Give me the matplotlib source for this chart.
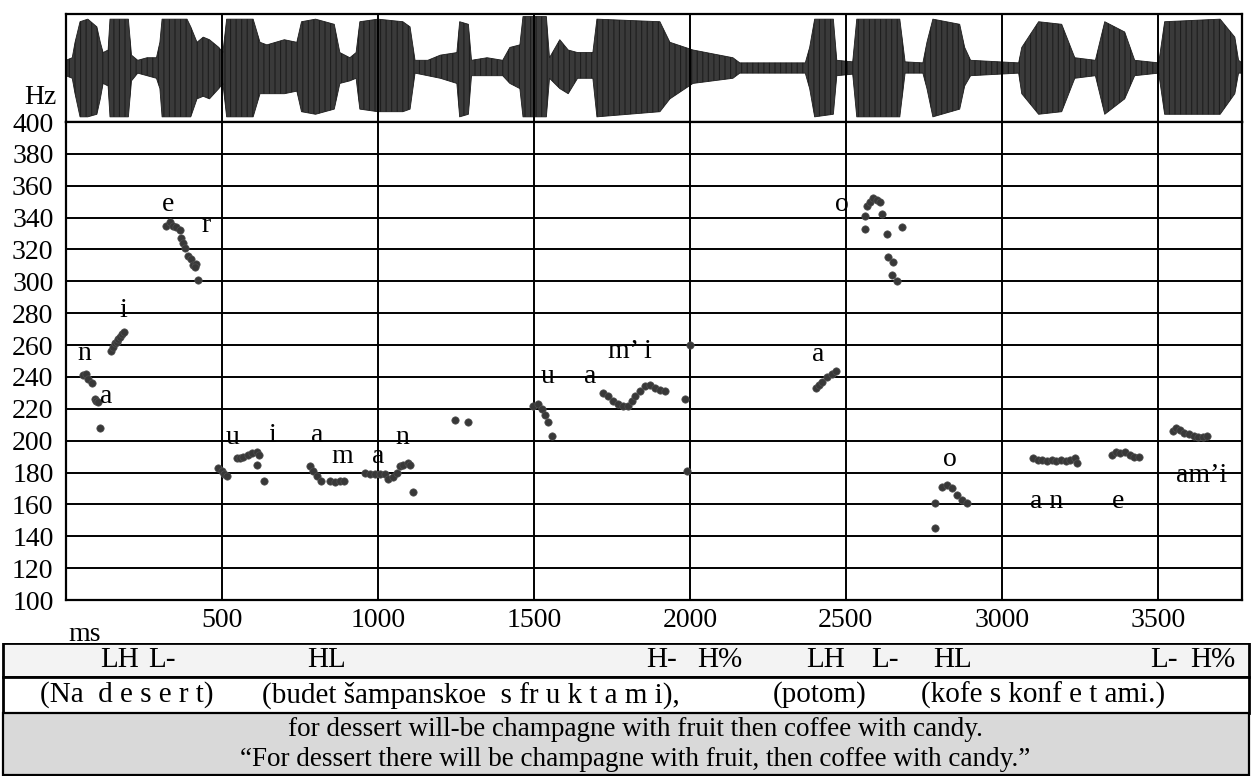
import matplotlib.pyplot as plt
from matplotlib.patches import Rectangle

plt.rcParams['font.family'] = ['Liberation Serif', 'DejaVu Serif']
plt.rcParams['hatch.linewidth'] = 0.8

# --- waveform envelope (ms, upper amplitude, lower amplitude) ---
wave_t = [0, 20, 29, 45, 70, 99, 110, 119, 135, 141, 200, 210, 230, 260, 290, 301, 308, 388,
          400, 420, 440, 460, 490, 503, 515, 600, 622, 644, 700, 740, 755, 800, 860, 878, 910,
          930, 942, 1000, 1080, 1103, 1119, 1160, 1200, 1253, 1262, 1290, 1300, 1350, 1400,
          1423, 1455, 1465, 1540, 1550, 1583, 1610, 1640, 1689, 1702, 1904, 1936, 2010, 2138,
          2160, 2370, 2384, 2400, 2460, 2471, 2522, 2535, 2673, 2690, 2747, 2760, 2779, 2865,
          2881, 2900, 3054, 3064, 3118, 3192, 3234, 3300, 3330, 3394, 3426, 3503, 3522, 3700,
          3747, 3759, 3770]
wave_top = [0.15, 0.2, 0.5, 0.9, 0.95, 0.8, 0.5, 0.3, 0.35, 0.95, 0.95, 0.25, 0.15, 0.2, 0.2,
            0.5, 0.95, 0.95, 0.8, 0.5, 0.6, 0.55, 0.4, 0.3, 0.95, 0.95, 0.5, 0.45, 0.55, 0.5,
            0.9, 0.95, 0.85, 0.3, 0.2, 0.3, 0.9, 0.95, 0.9, 0.8, 0.15, 0.15, 0.25, 0.3, 0.9,
            0.85, 0.15, 0.2, 0.15, 0.4, 0.45, 1.0, 1.0, 0.2, 0.55, 0.35, 0.3, 0.3, 0.95, 0.9,
            0.5, 0.35, 0.2, 0.1, 0.1, 0.4, 0.95, 0.95, 0.15, 0.12, 0.95, 0.95, 0.12, 0.1, 0.5,
            0.95, 0.85, 0.4, 0.15, 0.1, 0.4, 0.9, 0.85, 0.2, 0.15, 0.9, 0.7, 0.15, 0.1, 0.9,
            0.95, 0.6, 0.15, 0.1]
wave_bot = [0.15, 0.2, 0.5, 0.95, 0.95, 0.9, 0.6, 0.3, 0.35, 0.95, 0.95, 0.25, 0.1, 0.15, 0.2,
            0.4, 0.95, 0.95, 0.95, 0.6, 0.55, 0.6, 0.4, 0.3, 0.95, 0.95, 0.5, 0.5, 0.5, 0.45,
            0.85, 0.9, 0.8, 0.3, 0.25, 0.2, 0.8, 0.85, 0.85, 0.8, 0.1, 0.15, 0.2, 0.3, 0.95,
            0.9, 0.15, 0.15, 0.15, 0.3, 0.4, 0.95, 0.95, 0.2, 0.4, 0.5, 0.2, 0.2, 0.95, 0.85,
            0.6, 0.3, 0.2, 0.1, 0.1, 0.4, 0.95, 0.9, 0.15, 0.12, 0.95, 0.95, 0.1, 0.1, 0.4,
            0.95, 0.8, 0.35, 0.15, 0.1, 0.5, 0.9, 0.85, 0.2, 0.15, 0.9, 0.6, 0.15, 0.1, 0.9,
            0.9, 0.5, 0.1, 0.1]

# --- F0 points (ms, Hz) ---
pitch_ms = [54, 64, 71, 83, 92, 96, 103, 109,
            144, 151, 157, 163, 168, 173, 180, 186,
            320, 333, 343, 354, 364, 369, 375, 380, 390, 401, 407, 417, 412, 422,
            487, 500, 506, 516, 548, 558, 567, 583, 596, 612, 619, 612, 635,
            782, 792, 804, 817, 846, 862, 878, 891,
            958, 974, 990, 1006, 1022, 1032, 1048, 1061, 1070, 1080, 1096, 1104, 1112,
            1247, 1288,
            1497, 1513, 1526, 1535, 1545, 1558,
            1721, 1737, 1753, 1769, 1785, 1801, 1814, 1824, 1840, 1856, 1872, 1888, 1904, 1920,
            1984, 1990, 2000,
            2405, 2415, 2425, 2440, 2455, 2470,
            2561, 2567, 2577, 2587, 2599, 2609, 2615, 2561, 2631, 2679, 2635, 2651, 2647, 2663,
            2785, 2785, 2808, 2824, 2840, 2856, 2872, 2888,
            3099, 3115, 3130, 3145, 3160, 3175, 3190, 3205, 3220, 3235, 3240,
            3352, 3365, 3380, 3395, 3410, 3425, 3440,
            3548, 3560, 3572, 3585, 3600, 3615, 3630, 3645, 3657]
pitch_hz = [241, 242, 239, 236, 226, 225, 224, 208,
            256, 259, 261, 262, 264, 265, 267, 268,
            335, 337, 335, 334, 332, 327, 324, 321, 316, 314, 310, 311, 309, 301,
            183, 181, 179, 178, 189, 189, 190, 191, 192, 193, 191, 185, 175,
            184, 181, 178, 175, 175, 174, 175, 175,
            180, 179, 179, 179, 179, 176, 177, 180, 184, 185, 186, 185, 168,
            213, 212,
            222, 223, 220, 216, 212, 203,
            230, 228, 225, 223, 222, 222, 225, 228, 231, 234, 235, 233, 232, 231,
            226, 181, 260,
            233, 235, 237, 240, 242, 244,
            341, 347, 350, 352, 351, 350, 342, 333, 330, 334, 315, 312, 304, 300,
            145, 161, 171, 172, 170, 166, 163, 161,
            189, 188, 188, 187, 188, 187, 188, 187, 188, 189, 186,
            191, 193, 192, 193, 191, 190, 190,
            206, 208, 207, 205, 204, 203, 202, 202, 203]

# segment labels: text, ms, Hz
seg_text = ['n', 'a', 'i', 'e', 'r', 'u', 'i', 'a', 'm', 'a', 'n', 'u', 'a', 'm\u2019 i',
            'a', 'o', 'o', 'a n', 'e', 'am\u2019i']
seg_ms = [60, 130, 183, 327, 450, 535, 660, 804, 885, 1000, 1077, 1545, 1679, 1808,
          2410, 2487, 2833, 3144, 3372, 3641]
seg_hz = [255, 228, 282, 348, 335, 202, 203, 203, 190, 190, 202, 240, 240, 256,
          254, 348, 188, 162, 162, 178]

# annotation rows
tone_labels = ['LH', 'L-', 'HL', 'H-', 'H%', 'LH', 'L-', 'HL', 'L-', 'H%']
tone_x = [120, 162, 327, 662, 720, 826, 885, 953, 1164, 1213]
words = ['(Na  d e s e r t)', '(budet šampanskoe  s fr u k t a m i),', '(potom)',
         '(kofe s konf e t ami.)']
words_x = [40, 262, 773, 921]
gloss = 'for dessert will-be champagne with fruit then coffee with candy.'
translation = '\u201cFor dessert there will be champagne with fruit, then coffee with candy.\u201d'

fig = plt.figure(figsize=(12.52, 7.76), dpi=100)
W, H = 1252, 776
x0, x1 = 66, 1242
y_wave_top, y_400, y_100 = 14, 122, 600
tick_ms = [500, 1000, 1500, 2000, 2500, 3000, 3500]

# waveform panel
ax_w = fig.add_axes([x0 / W, 1 - y_400 / H, (x1 - x0) / W, (y_400 - y_wave_top) / H])
ax_w.fill_between(wave_t, wave_top, [-v for v in wave_bot], facecolor='#3a3a3a',
                  edgecolor='#1e1e1e', hatch='|||', lw=0.6)
ax_w.set_xlim(0, 3770)
ax_w.set_ylim(-1.05, 1.05)
for t in tick_ms:
    ax_w.axvline(t, color='black', lw=1.4)
ax_w.set_xticks([])
ax_w.set_yticks([])
for s in ax_w.spines.values():
    s.set_linewidth(1.6)
fig.text(56 / W, 1 - 97 / H, 'Hz', ha='right', va='center', fontsize=20)

# pitch panel
ax = fig.add_axes([x0 / W, 1 - y_100 / H, (x1 - x0) / W, (y_100 - y_400) / H])
ax.scatter(pitch_ms, pitch_hz, s=28, color='#383838', edgecolors='#505050', lw=0.5, zorder=3)
for t, m, h in zip(seg_text, seg_ms, seg_hz):
    ax.text(m, h, t, ha='center', va='center', fontsize=20, zorder=4)
ax.set_xlim(0, 3770)
ax.set_ylim(100, 400)
ax.set_yticks(range(100, 401, 20))
ax.set_xticks(tick_ms)
ax.tick_params(length=0, labelsize=20, pad=6)
ax.tick_params(axis='y', pad=9)
ax.grid(True, color='black', lw=1.4)
ax.set_axisbelow(True)
for s in ax.spines.values():
    s.set_linewidth(1.6)
ax.text(60, -0.045, 'ms', transform=ax.get_xaxis_transform(), ha='center', va='top', fontsize=20)

# annotation table below the plot
ax_t = fig.add_axes([0, 0, 1, (H - 643) / H])
ax_t.set_xlim(0, W)
ax_t.set_ylim(H, 643)
ax_t.axis('off')
ax_t.add_patch(Rectangle((3, 643), W - 6, 34, facecolor='#f3f3f3', edgecolor='black', lw=2))
ax_t.add_patch(Rectangle((3, 677), W - 6, 36, facecolor='white', edgecolor='black', lw=2))
ax_t.add_patch(Rectangle((3, 713), W - 6, 62, facecolor='#d9d9d9', edgecolor='black', lw=1.6))
for t, x in zip(tone_labels, tone_x):
    ax_t.text(x, 660, t, ha='center', va='center', fontsize=21)
for t, x in zip(words, words_x):
    ax_t.text(x, 695, t, ha='left', va='center', fontsize=21)
ax_t.text(635, 730, gloss, ha='center', va='center', fontsize=19.5)
ax_t.text(635, 760, translation, ha='center', va='center', fontsize=19.5)

fig.savefig('out.png', dpi=100)
